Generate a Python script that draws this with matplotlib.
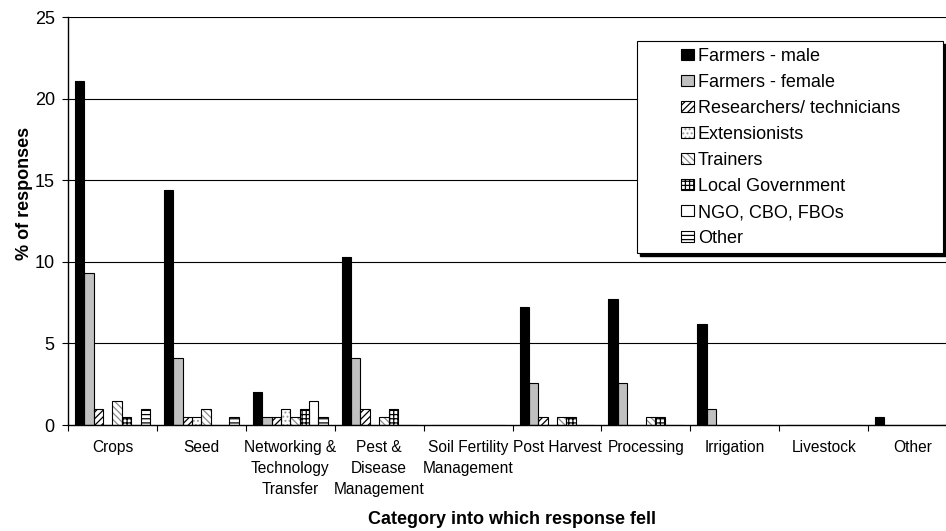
import numpy as np
import matplotlib
matplotlib.use("Agg")
import matplotlib.pyplot as plt
from matplotlib.patches import Patch, Rectangle

plt.rcParams['font.family'] = ['Liberation Sans', 'DejaVu Sans']
plt.rcParams['hatch.linewidth'] = 0.9

categories = ["Crops", "Seed", "Networking &\nTechnology\nTransfer",
              "Pest &\nDisease\nManagement", "Soil Fertility\nManagement",
              "Post Harvest", "Processing", "Irrigation", "Livestock", "Other"]

series_names = ["Farmers - male", "Farmers - female", "Researchers/ technicians",
                "Extensionists", "Trainers", "Local Government",
                "NGO, CBO, FBOs", "Other"]

farmers_male = [21.1, 14.4, 2.0, 10.3, 0, 7.2, 7.7, 6.2, 0, 0.5]
farmers_female = [9.3, 4.1, 0.5, 4.1, 0, 2.6, 2.6, 1.0, 0, 0]
researchers = [1.0, 0.5, 0.5, 1.0, 0, 0.5, 0, 0, 0, 0]
extensionists = [0, 0.5, 1.0, 0, 0, 0, 0, 0, 0, 0]
trainers = [1.5, 1.0, 0.5, 0.5, 0, 0.5, 0.5, 0, 0, 0]
local_government = [0.5, 0, 1.0, 1.0, 0, 0.5, 0.5, 0, 0, 0]
ngo_cbo_fbo = [0, 0, 1.5, 0, 0, 0, 0, 0, 0, 0]
other = [1.0, 0.5, 0.5, 0, 0, 0, 0, 0, 0, 0]

series = [farmers_male, farmers_female, researchers, extensionists,
          trainers, local_government, ngo_cbo_fbo, other]

# (face colour, hatch pattern, hatch colour) for each series
styles = [
    ("black", None, "black"),
    ("#c0c0c0", None, "black"),
    ("white", "/////", "black"),
    ("white", "....", "#9a9a9a"),
    ("white", "\\\\\\\\\\", "#8a8a8a"),
    ("white", "++++", "black"),
    ("white", None, "black"),
    ("white", "----", "black"),
]

W, H = 946, 531
fig = plt.figure(figsize=(W / 100, H / 100), dpi=100)
ax = fig.add_axes([68 / W, 106 / H, 889 / W, 408 / H])

x = np.arange(len(categories))
n = len(series)
bw = 1.0 / (n + 1.5)
start = -0.5 + 0.75 * bw

handles = []
for i, (vals, name, (fc, hatch, hc)) in enumerate(zip(series, series_names, styles)):
    left = x + start + i * bw
    ax.bar(left, vals, width=bw, align='edge', color=fc, hatch=hatch,
           edgecolor=hc, linewidth=0, zorder=3)
    ax.bar(left, vals, width=bw, align='edge', facecolor='none',
           edgecolor='black', linewidth=0.8, zorder=4)
    handles.append((Patch(facecolor=fc, hatch=hatch, edgecolor=hc, linewidth=0),
                    Patch(facecolor='none', edgecolor='black', linewidth=0.8)))

ax.set_xlim(-0.5, len(categories) - 0.5)
ax.set_ylim(0, 25)
ax.set_yticks(np.arange(0, 26, 5))
for yv in np.arange(5, 26, 5):
    ax.axhline(yv, color='black', linewidth=0.8, zorder=1)

ax.set_xticks(np.arange(-0.5, len(categories), 1.0))
ax.set_xticklabels([])
ax.set_xticks(x, minor=True)
ax.set_xticklabels(categories, minor=True, fontsize=11.2, linespacing=1.5)
ax.tick_params(axis='x', which='major', direction='out', length=4, width=0.8)
ax.tick_params(axis='x', which='minor', length=0, pad=11)
ax.tick_params(axis='y', direction='out', length=4.5, width=0.8, labelsize=13, pad=5)

for side in ('top', 'right'):
    ax.spines[side].set_visible(False)
ax.spines['left'].set_linewidth(1.0)
ax.spines['bottom'].set_linewidth(1.0)
ax.spines['left'].set_zorder(5)
ax.spines['bottom'].set_zorder(5)

ax.set_xlabel("Category into which response fell", fontsize=13, fontweight='bold')
ax.xaxis.set_label_coords(0.5, (425 - 511) / 408)
ax.set_ylabel("% of responses", fontsize=13, fontweight='bold')
ax.yaxis.label.set_va('center')
ax.yaxis.set_label_coords((25 - 68) / 889, (425 - 193) / 408)

# legend frame with a solid drop shadow
bx0, by0, bx1, by1 = 637, 41, 943, 253
fig.patches.append(Rectangle(((bx0 + 3) / W, (H - by1 - 3) / H), (bx1 - bx0) / W,
                             (by1 - by0) / H, transform=fig.transFigure,
                             facecolor='black', edgecolor='black', zorder=6))
fig.patches.append(Rectangle((bx0 / W, (H - by1) / H), (bx1 - bx0) / W,
                             (by1 - by0) / H, transform=fig.transFigure,
                             facecolor='white', edgecolor='black', linewidth=0.8,
                             zorder=7))

leg = fig.legend(handles, series_names, loc='upper left',
                 bbox_to_anchor=(681 / W, (H - 48) / H),
                 frameon=False, fontsize=13, borderpad=0, borderaxespad=0,
                 handlelength=0.72, handleheight=0.58, handletextpad=0.22,
                 labelspacing=0.5)
leg.set_zorder(8)

fig.savefig("out.png", dpi=100)
